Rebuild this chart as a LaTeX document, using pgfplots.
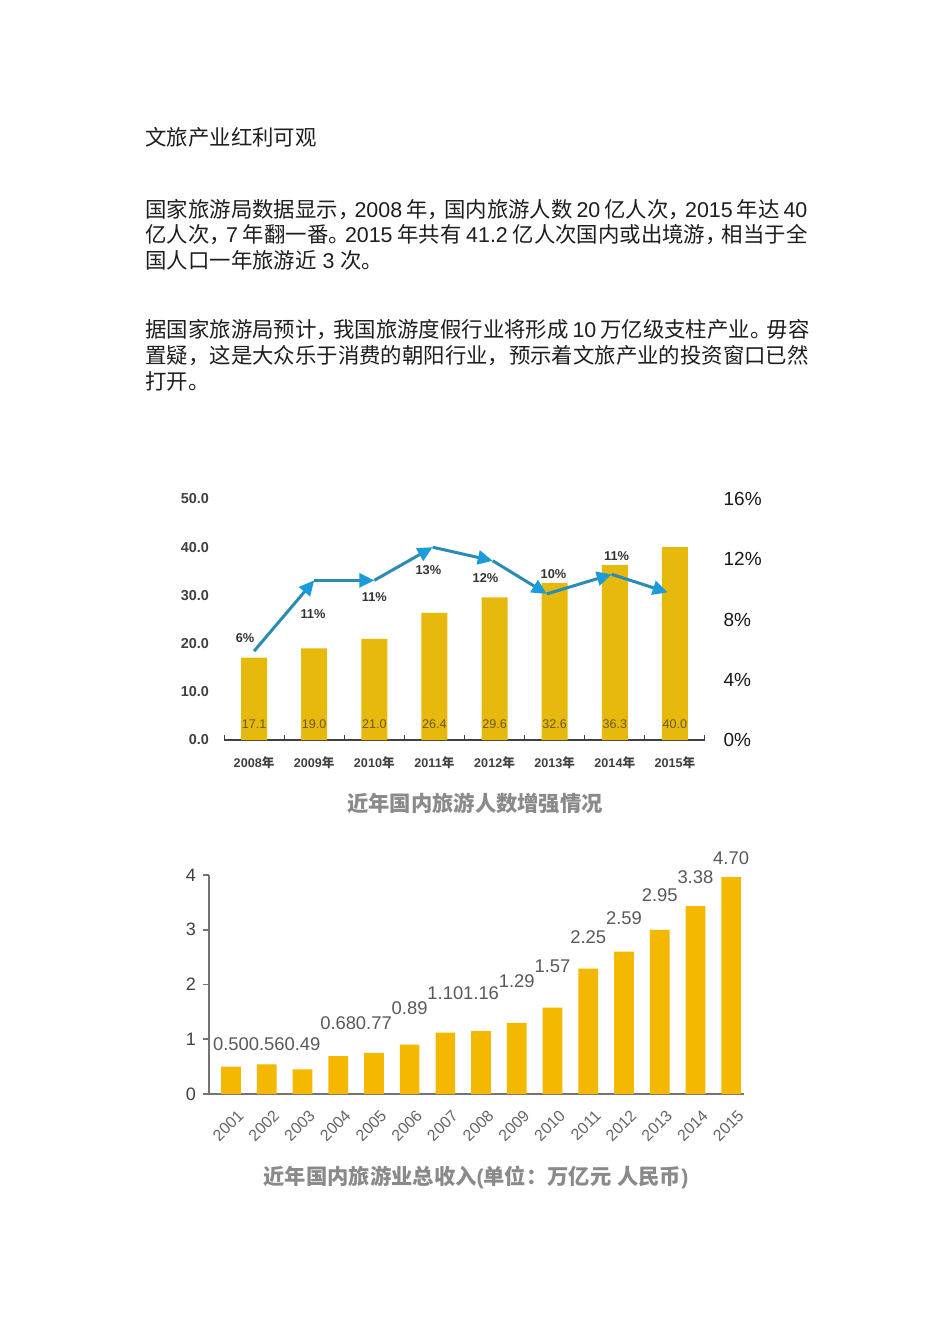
\documentclass[border=0pt]{standalone}
\usepackage{fontspec}
\setmainfont{Liberation Sans}
\newfontfamily\cjk{Noto Sans CJK SC}
\usepackage{pgfplots}
\pgfplotsset{compat=1.18}
\usetikzlibrary{arrows.meta}
\definecolor{barA}{HTML}{E6B90C}
\definecolor{barB}{HTML}{F5B800}
\definecolor{lineblue}{HTML}{2A8CB2}
\definecolor{arrowblue}{HTML}{1C9BDA}
\definecolor{goldtxt}{HTML}{6A5A22}
\definecolor{captxt}{HTML}{8A8A8A}
\definecolor{bodytxt}{HTML}{1E1E1E}
\newcommand{\cm}{\kern-2.4pt}
\begin{document}
\begin{tikzpicture}
\fill[white] (0,0) rectangle (475pt,-672pt);
\begin{scope}[every node/.style={inner sep=0pt, anchor=west, text=bodytxt, font=\fontsize{10.7pt}{12pt}\selectfont}]
\node at (72.5pt,-68.5pt) {\cjk 文旅产业红利可观};
\node at (72.5pt,-105pt) {\makebox[331pt][s]{{\cjk 国家旅游局数据显示，\cm}2008 {\cjk 年，\cm 国内旅游人数} 20 {\cjk 亿人次，\cm}2015 {\cjk 年达} 40}};
\node at (72.5pt,-117.5pt) {\makebox[331pt][s]{{\cjk 亿人次，\cm}7 {\cjk 年翻一番。\cm}2015 {\cjk 年共有} 41.2 {\cjk 亿人次国内或出境游，\cm 相当于全}}};
\node at (72.5pt,-130pt) {{\cjk 国人口一年旅游近} 3 {\cjk 次。}};
\node at (72.5pt,-165pt) {\makebox[331pt][s]{{\cjk 据国家旅游局预计，\cm 我国旅游度假行业将形成} 10 {\cjk 万亿级支柱产业。\cm 毋容}}};
\node at (72.5pt,-178pt) {{\cjk 置疑，这是大众乐于消费的朝阳行业，预示着文旅产业的投资窗口已然}};
\node at (72.5pt,-190.5pt) {{\cjk 打开。}};
\end{scope}
\node[anchor=center, inner sep=0pt, text=captxt, font=\bfseries\fontsize{10.65pt}{12pt}\selectfont] at (237.5pt,-401.5pt) {\cjk 近年国内旅游人数增强情况};
\node[anchor=center, inner sep=0pt, text=captxt, font=\bfseries\fontsize{10.65pt}{12pt}\selectfont] at (238pt,-588.5pt) {{\cjk 近年国内旅游业总收入}({\cjk 单位：万亿元} {\cjk 人民币})};

% ---------- chart 1: bars ----------
\begin{axis}[
  at={(112pt,-370pt)}, anchor=south west,
  scale only axis, width=240.5pt, height=120.5pt,
  xmin=-0.5, xmax=7.5, ymin=0, ymax=50,
  axis x line*=bottom, axis y line*=left,
  y axis line style={draw=none},
  x axis line style={-, draw=black!75, line width=0.6pt},
  xtick={0,...,7},
  xticklabels={2008{\cjk 年},2009{\cjk 年},2010{\cjk 年},2011{\cjk 年},2012{\cjk 年},2013{\cjk 年},2014{\cjk 年},2015{\cjk 年}},
  minor xtick={-0.5,0.5,...,7.5},
  major tick length=0pt,
  minor tick length=2.5pt,
  tick align=inside,
  minor tick style={draw=black!75, line width=0.5pt},
  ytick={0,10,20,30,40,50},
  yticklabels={0.0,10.0,20.0,30.0,40.0,50.0},
  xticklabel style={font=\bfseries\fontsize{6.3pt}{7pt}\selectfont, text=black!75, yshift=-5pt},
  yticklabel style={font=\bfseries\fontsize{7.2pt}{8pt}\selectfont, text=black!75, xshift=-4pt},
  clip=false,
]
\addplot[ybar, bar width=13pt, fill=barA, draw=none] coordinates {(0,17.1)(1,19.0)(2,21.0)(3,26.4)(4,29.6)(5,32.6)(6,36.3)(7,40.0)};
\addplot[draw=none, nodes near coords, point meta=explicit symbolic,
  nodes near coords style={font=\fontsize{6.3pt}{7pt}\selectfont, text=goldtxt, anchor=center}]
  coordinates {(0,3.3)[17.1] (1,3.3)[19.0] (2,3.3)[21.0] (3,3.3)[26.4] (4,3.3)[29.6] (5,3.3)[32.6] (6,3.3)[36.3] (7,3.3)[40.0]};
\end{axis}

% ---------- chart 1: growth line ----------
\begin{axis}[
  at={(112pt,-370pt)}, anchor=south west,
  scale only axis, width=240.5pt, height=120.5pt,
  xmin=-0.5, xmax=7.5, ymin=0, ymax=16,
  axis x line=none, axis y line*=right, y axis line style={draw=none},
  ytick={0,4,8,12,16}, yticklabels={0\%,4\%,8\%,12\%,16\%},
  major tick length=0pt,
  yticklabel style={font=\fontsize{9.5pt}{10pt}\selectfont, text=black!90, xshift=5.8pt},
  clip=false,
]
\addplot[lineblue, line width=1.5pt, -{Triangle[length=7.5pt,width=7pt,color=arrowblue]}] coordinates {(0,5.9)(1.0,10.6)};
\addplot[lineblue, line width=1.5pt, -{Triangle[length=7.5pt,width=7pt,color=arrowblue]}] coordinates {(1.0,10.6)(2.0,10.6)};
\addplot[lineblue, line width=1.5pt, -{Triangle[length=7.5pt,width=7pt,color=arrowblue]}] coordinates {(2.0,10.6)(2.97,12.8)};
\addplot[lineblue, line width=1.5pt, -{Triangle[length=7.5pt,width=7pt,color=arrowblue]}] coordinates {(2.97,12.8)(3.97,11.9)};
\addplot[lineblue, line width=1.5pt, -{Triangle[length=7.5pt,width=7pt,color=arrowblue]}] coordinates {(3.97,11.9)(4.87,9.7)};
\addplot[lineblue, line width=1.5pt, -{Triangle[length=7.5pt,width=7pt,color=arrowblue]}] coordinates {(4.87,9.7)(5.95,11.0)};
\addplot[lineblue, line width=1.5pt, -{Triangle[length=7.5pt,width=7pt,color=arrowblue]}] coordinates {(5.95,11.0)(6.88,9.8)};
\addplot[draw=none, nodes near coords, point meta=explicit symbolic,
  nodes near coords style={font=\bfseries\fontsize{6.4pt}{7pt}\selectfont, text=black!80, anchor=center}]
  coordinates {(-0.15,6.77)[6\%] (0.98,8.37)[11\%] (2.0,9.5)[11\%] (2.9,11.3)[13\%] (3.85,10.76)[12\%] (4.98,11.02)[10\%] (6.03,12.22)[11\%]};
\end{axis}

% ---------- chart 2 ----------
\begin{axis}[
  at={(104.5pt,-547pt)}, anchor=south west,
  scale only axis, width=267.5pt, height=109.5pt,
  xmin=-0.616, xmax=14.36, ymin=0, ymax=4,
  axis x line*=bottom, axis y line*=left,
  axis line style={-, draw=black!55, line width=0.9pt},
  xtick={0,...,14},
  xticklabels={2001,2002,2003,2004,2005,2006,2007,2008,2009,2010,2011,2012,2013,2014,2015},
  x tick style={draw=none},
  ytick={0,1,2,3,4},
  y tick style={draw=black!55, line width=0.8pt},
  tick align=outside, major tick length=3pt,
  /pgf/number format/assume math mode=true,
  xticklabel style={rotate=45, anchor=north east, font=\fontsize{8pt}{9pt}\selectfont, text=black!60, inner sep=1pt, yshift=-4pt},
  yticklabel style={font=\fontsize{9pt}{10pt}\selectfont, text=black!75},
  clip=false,
]
\addplot[ybar, bar width=9.85pt, fill=barB, draw=none] coordinates {(0,0.50)(1,0.54)(2,0.45)(3,0.69)(4,0.75)(5,0.90)(6,1.12)(7,1.15)(8,1.30)(9,1.58)(10,2.29)(11,2.60)(12,3.00)(13,3.43)(14,3.96)};
\addplot[draw=none, nodes near coords, point meta=explicit symbolic,
  nodes near coords style={font=\fontsize{9.2pt}{10pt}\selectfont, text=black!65, anchor=center}]
  coordinates {(0,0.907)[0.50] (1,0.907)[0.56] (2,0.907)[0.49] (3,1.29)[0.68] (4,1.29)[0.77] (5,1.56)[0.89] (6,1.84)[1.10] (7,1.84)[1.16] (8,2.06)[1.29] (9,2.34)[1.57] (10,2.86)[2.25] (11,3.22)[2.59] (12,3.64)[2.95] (13,3.96)[3.38] (14,4.31)[4.70]};
\end{axis}
\end{tikzpicture}
\end{document}
